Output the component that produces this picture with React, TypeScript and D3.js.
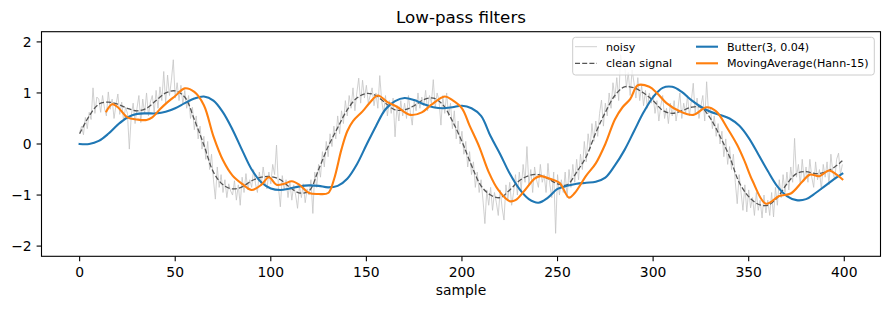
import React from "react";
import * as d3 from "d3";

// Raw noisy samples, one per index 0..399
const noisy: number[] = [
  0.22, 0.35, 0.18, 0.52, 0.30, 0.62, 0.48, 1.10, 0.60, 0.92,
  0.88, 0.62, 0.95, 0.70, 0.55, 1.02, 0.68, 0.88, 0.50, 0.76,
  0.98, 0.58, 0.82, 0.45, 0.72, 0.60, -0.10, 0.55, 0.80, 0.40,
  0.70, 0.95, 0.42, 0.88, 0.60, 1.00, 0.55, 0.82, 0.95, 0.62,
  1.05, 0.70, 1.12, 0.85, 1.42, 0.80, 1.35, 0.95, 1.25, 1.65,
  0.90, 1.20, 0.85, 1.15, 0.78, 1.05, 0.70, 0.95, 0.50, 0.72,
  0.28, 0.55, 0.10, 0.35, -0.10, 0.15, -0.30, 0.05, -0.50, -0.20,
  -0.70, -1.08, -0.45, -0.85, -0.60, -0.95, -0.70, -1.05, -0.78, -0.92,
  -1.00, -0.72, -1.10, -0.80, -1.20, -0.65, -0.95, -0.58, -0.90, -0.70,
  -0.85, -0.50, -0.78, -0.95, -0.55, -0.80, -0.45, -0.72, -0.88, -0.55,
  -0.78, -0.40, -0.60, -0.02, -0.85, -1.23, -0.62, -0.90, -0.70, -1.05,
  -0.75, -1.10, -0.80, -1.00, -1.26, -0.82, -1.05, -0.78, -1.15, -0.88,
  -1.00, -0.70, -1.36, -0.55, -0.85, -0.40, -0.65, -0.15, -0.45, 0.05,
  -0.25, 0.20, -0.05, 0.35, 0.10, 0.55, 0.20, 0.65, 0.40, 0.85,
  0.55, 0.95, 0.70, 1.10, 0.65, 1.00, 1.29, 0.80, 1.25, 0.90,
  1.15, 0.80, 0.95, 1.10, 0.75, 1.00, 0.70, 1.34, 0.85, 0.60,
  0.95, 0.55, 0.85, 0.60, 0.90, 0.14, 0.75, 0.45, 0.85, 0.55,
  0.80, 0.50, 0.95, 0.62, 0.37, 0.85, 0.65, 1.00, 0.70, 0.92,
  0.75, 1.05, 0.65, 0.95, 0.80, 1.26, 0.70, 1.00, 0.85, 0.37,
  0.95, 0.60, 1.00, 0.55, 0.80, 0.30, 0.65, 0.10, 0.45, 0.00,
  0.25, -0.20, 0.05, -0.45, -0.15, -0.60, -0.35, -0.85, -0.55, -0.95,
  -0.70, -1.10, -1.56, -0.90, -1.20, -0.85, -1.30, -0.95, -1.15, -1.40,
  -0.90, -1.25, -1.49, -0.80, -1.10, -0.75, -1.20, -0.95, -0.60, -1.00,
  -0.55, -0.90, -0.40, -0.75, -0.05, -0.80, -0.50, -0.95, -0.45, -0.70,
  -0.85, -0.40, -0.75, -0.60, -0.95, -0.38, -0.80, -1.05, -0.55, -1.75,
  -0.60, -1.00, -0.70, -0.95, -0.55, -1.05, -0.50, -0.85, -0.40, -0.75,
  -0.30, -0.70, -0.20, -0.50, 0.05, -0.35, 0.20, -0.10, 0.40, 0.05,
  0.45, 0.15, 0.60, 0.86, 0.35, 0.80, 0.55, 1.00, 0.70, 1.20,
  0.90, 1.30, 0.85, 1.75, 1.52, 1.65, 1.10, 1.40, 0.95, 1.45,
  1.20, 0.90, 1.30, 0.85, 1.15, 0.75, 1.05, 0.70, 1.00, 0.80,
  0.95, 0.60, 0.85, 0.45, 0.75, 0.95, 0.50, 0.70, 0.40, 0.80,
  0.55, 0.85, 0.45, 0.70, 1.00, 0.50, 0.80, 0.60, 0.95, 0.55,
  0.85, 1.19, 0.60, 0.90, 0.50, 0.75, 0.95, 0.45, 1.22, 0.60,
  0.70, 0.30, 0.55, 0.15, 0.40, 0.00, 0.25, -0.25, 0.10, -0.40,
  -0.05, -0.50, -0.20, -0.75, -1.17, -0.60, -0.95, -1.30, -0.80, -1.33,
  -0.90, -1.25, -1.05, -1.40, -0.95, -1.30, -1.10, -1.45, -1.00, -1.35,
  -1.10, -1.40, -0.95, -1.43, -0.85, -1.20, -0.70, -1.05, -0.60, -0.95,
  -0.55, -0.90, -0.45, -0.75, 0.11, -0.65, -0.40, -0.80, -0.30, -0.70,
  -0.45, -0.75, -0.30, -0.65, -0.85, -0.35, -0.70, -0.50, -0.90, -0.40,
  -0.65, -0.35, -0.80, -0.20, -0.55, -0.70, -0.30, -0.18, -0.60, -0.40,
];

// Clean reference signal
const cleanIdx: number[] = [
  0, 5, 10, 15, 20, 25, 30, 35, 40, 45, 50, 55, 60, 65, 70, 75, 80, 85, 90, 95,
  100, 105, 110, 115, 120, 125, 130, 135, 140, 145, 150, 155, 160, 165, 170, 175, 180, 185, 190, 195,
  200, 205, 210, 215, 220, 225, 230, 235, 240, 245, 250, 255, 260, 265, 270, 275, 280, 285, 290, 295,
  300, 305, 310, 315, 320, 325, 330, 335, 340, 345, 350, 355, 360, 365, 370, 375, 380, 385, 390, 395, 399,
];
const cleanVal: number[] = [
  0.20, 0.55, 0.78, 0.82, 0.78, 0.70, 0.65, 0.70, 0.85, 1.00, 1.04, 0.92, 0.48, -0.02, -0.55, -0.80, -0.88, -0.84, -0.72, -0.65,
  -0.64, -0.70, -0.85, -0.96, -0.92, -0.50, -0.05, 0.32, 0.67, 0.90, 0.99, 0.95, 0.80, 0.67, 0.67, 0.75, 0.87, 0.90, 0.77, 0.45,
  0.05, -0.42, -0.82, -1.00, -1.05, -0.90, -0.72, -0.62, -0.60, -0.68, -0.78, -0.80, -0.55, -0.25, 0.22, 0.62, 0.95, 1.12, 1.10, 1.00,
  0.85, 0.66, 0.60, 0.65, 0.72, 0.72, 0.50, 0.15, -0.25, -0.75, -1.03, -1.18, -1.20, -1.05, -0.78, -0.58, -0.54, -0.58, -0.55, -0.45, -0.33,
];

// Butterworth (order 3, Wn 0.04) output
const butterIdx: number[] = cleanIdx;
const butterVal: number[] = [
  0.00, 0.00, 0.06, 0.20, 0.38, 0.52, 0.59, 0.60, 0.60, 0.63, 0.70, 0.80, 0.89, 0.93, 0.85, 0.62, 0.28, -0.12, -0.50, -0.75,
  -0.87, -0.90, -0.87, -0.83, -0.81, -0.82, -0.85, -0.82, -0.68, -0.40, -0.02, 0.35, 0.68, 0.84, 0.90, 0.86, 0.78, 0.72, 0.70, 0.72,
  0.75, 0.70, 0.55, 0.15, -0.20, -0.58, -0.88, -1.08, -1.15, -1.05, -0.88, -0.82, -0.78, -0.76, -0.74, -0.66, -0.42, -0.12, 0.25, 0.62,
  0.92, 1.10, 1.12, 1.02, 0.86, 0.73, 0.63, 0.57, 0.50, 0.36, 0.12, -0.20, -0.53, -0.83, -1.02, -1.10, -1.08, -0.96, -0.82, -0.68, -0.58,
];

// Hann-15 moving average output
const maIdx: number[] = [
  14, 17, 20, 25, 30, 35, 38, 42, 46, 50, 55, 60, 65, 70, 75, 80, 85, 90, 95, 99,
  103, 107, 111, 115, 120, 125, 130, 133, 137, 140, 143, 148, 152, 156, 161, 166, 173, 179, 184, 191,
  195, 200, 204, 209, 214, 219, 225, 228, 233, 238, 241, 246, 251, 256, 259, 265, 270, 275, 280, 284,
  288, 292, 298, 302, 307, 314, 321, 328, 333, 339, 344, 348, 352, 359, 366, 372, 378, 382, 387, 392, 396, 399,
];
const maVal: number[] = [
  0.64, 0.78, 0.72, 0.52, 0.48, 0.47, 0.52, 0.68, 0.82, 0.94, 1.09, 1.02, 0.76, 0.15, -0.32, -0.62, -0.78, -0.90, -0.80, -0.65,
  -0.80, -0.78, -0.73, -0.80, -0.96, -0.98, -0.96, -0.70, -0.10, 0.25, 0.45, 0.64, 0.82, 0.95, 0.82, 0.73, 0.57, 0.62, 0.77, 0.93,
  0.86, 0.70, 0.36, -0.05, -0.55, -0.90, -1.12, -1.10, -0.90, -0.68, -0.63, -0.68, -0.76, -1.05, -0.96, -0.62, -0.38, 0.00, 0.48, 0.72,
  0.88, 1.15, 1.12, 1.00, 0.80, 0.64, 0.57, 0.72, 0.64, 0.30, -0.02, -0.35, -0.72, -1.17, -1.02, -0.97, -0.74, -0.60, -0.63, -0.52, -0.60, -0.69,
];

const xTicks: number[] = [0, 50, 100, 150, 200, 250, 300, 350, 400];
const yTicks: number[] = [-2, -1, 0, 1, 2];

const legendItems = [
  { label: "noisy", color: "#c4c4c4", width: 0.8, dash: "" },
  { label: "clean signal", color: "#555555", width: 1.3, dash: "5,2.2" },
  { label: "Butter(3, 0.04)", color: "#1f77b4", width: 2.1, dash: "" },
  { label: "MovingAverage(Hann-15)", color: "#ff7f0e", width: 2.1, dash: "" },
];

const W = 890;
const H = 310;
const M = { left: 41.5, right: 880.5, top: 31.7, bottom: 256.3 };
const FONT = "'DejaVu Sans', sans-serif";

export default function App() {
  const x = d3.scaleLinear().domain([-19.95, 418.95]).range([M.left, M.right]);
  const y = d3.scaleLinear().domain([-2.2, 2.2]).range([M.bottom, M.top]);

  const linear = d3
    .line<[number, number]>()
    .x((d) => x(d[0]))
    .y((d) => y(d[1]));
  const smooth = d3
    .line<[number, number]>()
    .x((d) => x(d[0]))
    .y((d) => y(d[1]))
    .curve(d3.curveCatmullRom.alpha(0.5));

  const noisyPts = noisy.map((v, i) => [i, v] as [number, number]);
  const cleanPts = cleanIdx.map((i, k) => [i, cleanVal[k]] as [number, number]);
  const butterPts = butterIdx.map((i, k) => [i, butterVal[k]] as [number, number]);
  const maPts = maIdx.map((i, k) => [i, maVal[k]] as [number, number]);

  const fmt = (v: number) => (v < 0 ? "\u2212" + Math.abs(v) : String(v));

  // legend geometry
  const lg = { x: 572.7, y: 37.3, w: 301.6, h: 37.7 };
  const rowY = [46.7, 63.3];
  const colX = [575, 696];

  return (
    <svg
      width={W}
      height={H}
      style={{ position: "absolute", left: 0, top: 0, background: "#fff" }}
      fontFamily={FONT}
    >
      <defs>
        <clipPath id="plot-area">
          <rect x={M.left} y={M.top} width={M.right - M.left} height={M.bottom - M.top} />
        </clipPath>
      </defs>
      <rect x={0} y={0} width={W} height={H} fill="#fff" />

      <g clipPath="url(#plot-area)" fill="none" strokeLinejoin="round" strokeLinecap="butt">
        <path d={linear(noisyPts) ?? ""} stroke="#c4c4c4" strokeWidth={0.8} />
        <path d={smooth(cleanPts) ?? ""} stroke="#555555" strokeWidth={1.3} strokeDasharray="5,2.2" />
        <path d={smooth(butterPts) ?? ""} stroke="#1f77b4" strokeWidth={2.1} strokeLinecap="square" />
        <path d={smooth(maPts) ?? ""} stroke="#ff7f0e" strokeWidth={2.1} strokeLinecap="square" />
      </g>

      {/* axes frame */}
      <rect
        x={M.left}
        y={M.top}
        width={M.right - M.left}
        height={M.bottom - M.top}
        fill="none"
        stroke="#000"
        strokeWidth={1.1}
      />

      {/* x ticks */}
      {xTicks.map((t) => (
        <g key={"x" + t}>
          <line x1={x(t)} x2={x(t)} y1={M.bottom} y2={M.bottom + 4.9} stroke="#000" strokeWidth={1.1} />
          <text x={x(t)} y={M.bottom + 20.3} fontSize={13.9} textAnchor="middle" fill="#000">
            {fmt(t)}
          </text>
        </g>
      ))}

      {/* y ticks */}
      {yTicks.map((t) => (
        <g key={"y" + t}>
          <line x1={M.left - 4.9} x2={M.left} y1={y(t)} y2={y(t)} stroke="#000" strokeWidth={1.1} />
          <text x={M.left - 9.8} y={y(t) + 5} fontSize={13.9} textAnchor="end" fill="#000">
            {fmt(t)}
          </text>
        </g>
      ))}

      <text x={(M.left + M.right) / 2} y={23.4} fontSize={16.7} textAnchor="middle" fill="#000">
        Low-pass filters
      </text>
      <text x={(M.left + M.right) / 2} y={295} fontSize={13.9} textAnchor="middle" fill="#000">
        sample
      </text>

      {/* legend */}
      <rect
        x={lg.x}
        y={lg.y}
        width={lg.w}
        height={lg.h}
        rx={2.8}
        fill="#fff"
        fillOpacity={0.8}
        stroke="#cccccc"
        strokeWidth={1}
      />
      {legendItems.map((it, k) => {
        const col = Math.floor(k / 2);
        const row = k % 2;
        const hx = colX[col];
        const hy = rowY[row];
        return (
          <g key={it.label}>
            <line
              x1={hx}
              x2={hx + 22}
              y1={hy}
              y2={hy}
              stroke={it.color}
              strokeWidth={it.width}
              strokeDasharray={it.dash || undefined}
            />
            <text x={hx + 31} y={hy + 4} fontSize={11.1} fill="#000">
              {it.label}
            </text>
          </g>
        );
      })}
    </svg>
  );
}
